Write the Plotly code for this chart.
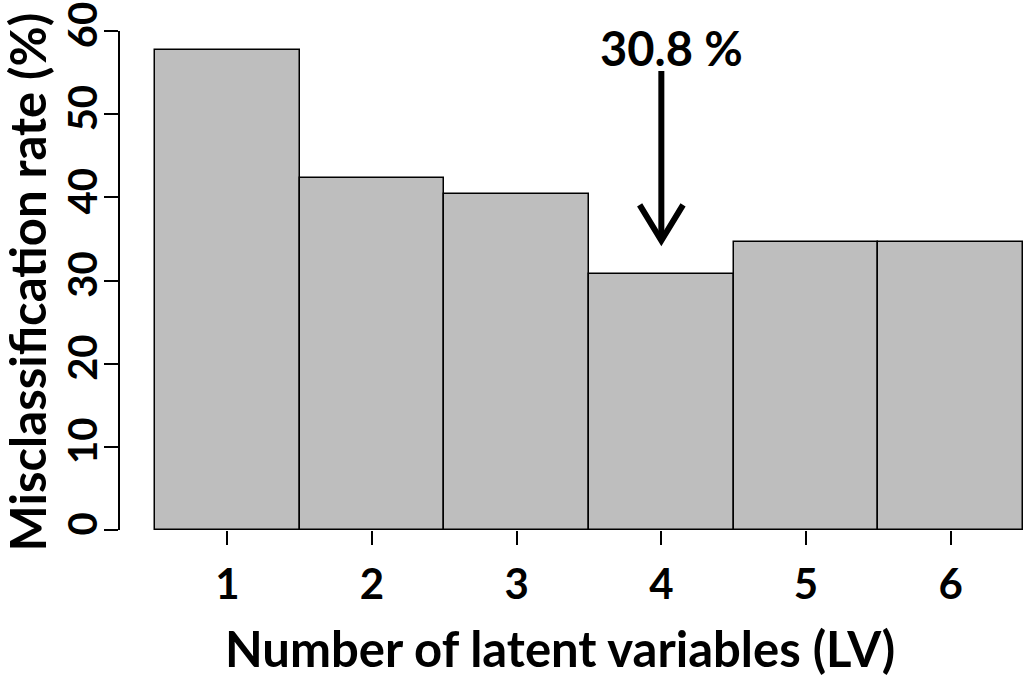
import plotly.graph_objects as go

# Data
n_lv = [1, 2, 3, 4, 5, 6]
misclass_rate = [57.7, 42.3, 40.4, 30.8, 34.6, 34.6]
y_ticks = [0, 10, 20, 30, 40, 50, 60]
x_title = "Number of latent variables (LV)"
y_title = "Misclassification rate (%)"

best_idx = misclass_rate.index(min(misclass_rate))
best_x = n_lv[best_idx]
best_y = misclass_rate[best_idx]

FONT = "Lato"
FS_TICK = 42
FS_TITLE = 49

fig = go.Figure()
fig.add_trace(go.Bar(
    x=n_lv, y=misclass_rate, width=1.0,
    marker=dict(color="#BEBEBE", line=dict(color="black", width=1.5)),
    showlegend=False, hoverinfo="skip",
))

# Arrow pointing to the minimum
tip = best_y + 4.0
top = best_y + 24.4
fig.add_shape(type="line", xref="x", yref="y", x0=best_x, x1=best_x, y0=top, y1=tip,
              line=dict(color="black", width=6))
fig.add_shape(type="path", xref="x", yref="y",
              path=f"M {best_x-0.15},{tip+4.3} L {best_x},{tip} L {best_x+0.15},{tip+4.3}",
              line=dict(color="black", width=6))
fig.add_annotation(x=best_x + 0.07, y=top + 2.7, xref="x", yref="y",
                   text=f"<b>{best_y:.1f} %</b>", showarrow=False,
                   font=dict(family=FONT, size=47, color="black"))

# Axis titles
fig.add_annotation(x=0.487, y=-0.237, xref="paper", yref="paper",
                   text=f"<b>{x_title}</b>", showarrow=False,
                   xanchor="center", yanchor="middle",
                   font=dict(family=FONT, size=FS_TITLE, color="black"))
fig.add_annotation(x=-0.1025, y=0.497, xref="paper", yref="paper",
                   text=f"<b>{y_title}</b>", showarrow=False, textangle=-90,
                   xanchor="center", yanchor="middle",
                   font=dict(family=FONT, size=FS_TITLE, color="black"))

fig.update_layout(
    width=1024, height=677,
    margin=dict(l=120, r=1, t=31, b=147, autoexpand=False),
    plot_bgcolor="white", paper_bgcolor="white",
    bargap=0,
    font=dict(family=FONT, size=FS_TICK, color="black"),
    xaxis=dict(
        range=[0.258, 6.5], tickmode="array", tickvals=n_lv,
        ticktext=[f"<b>{v}</b>" for v in n_lv],
        ticks="outside", ticklen=14, tickwidth=1.5, tickcolor="black",
        showline=False, showgrid=False, zeroline=False, automargin=False,
        ticklabelstandoff=4, ticklabeloverflow="allow",
    ),
    yaxis=dict(
        range=[0, 60], tickmode="array", tickvals=y_ticks,
        ticktext=[f"<b>{v}</b>" for v in y_ticks],
        tickangle=-90, tickfont=dict(size=40),
        ticks="outside", ticklen=14, tickwidth=1.5, tickcolor="black",
        showline=True, linecolor="black", linewidth=1.5,
        showgrid=False, zeroline=False, automargin=False,
        ticklabelstandoff=-9, ticklabeloverflow="allow",
    ),
)

fig.write_html("out.html", config={"displayModeBar": False},
               post_script="document.body.style.margin='0';")
